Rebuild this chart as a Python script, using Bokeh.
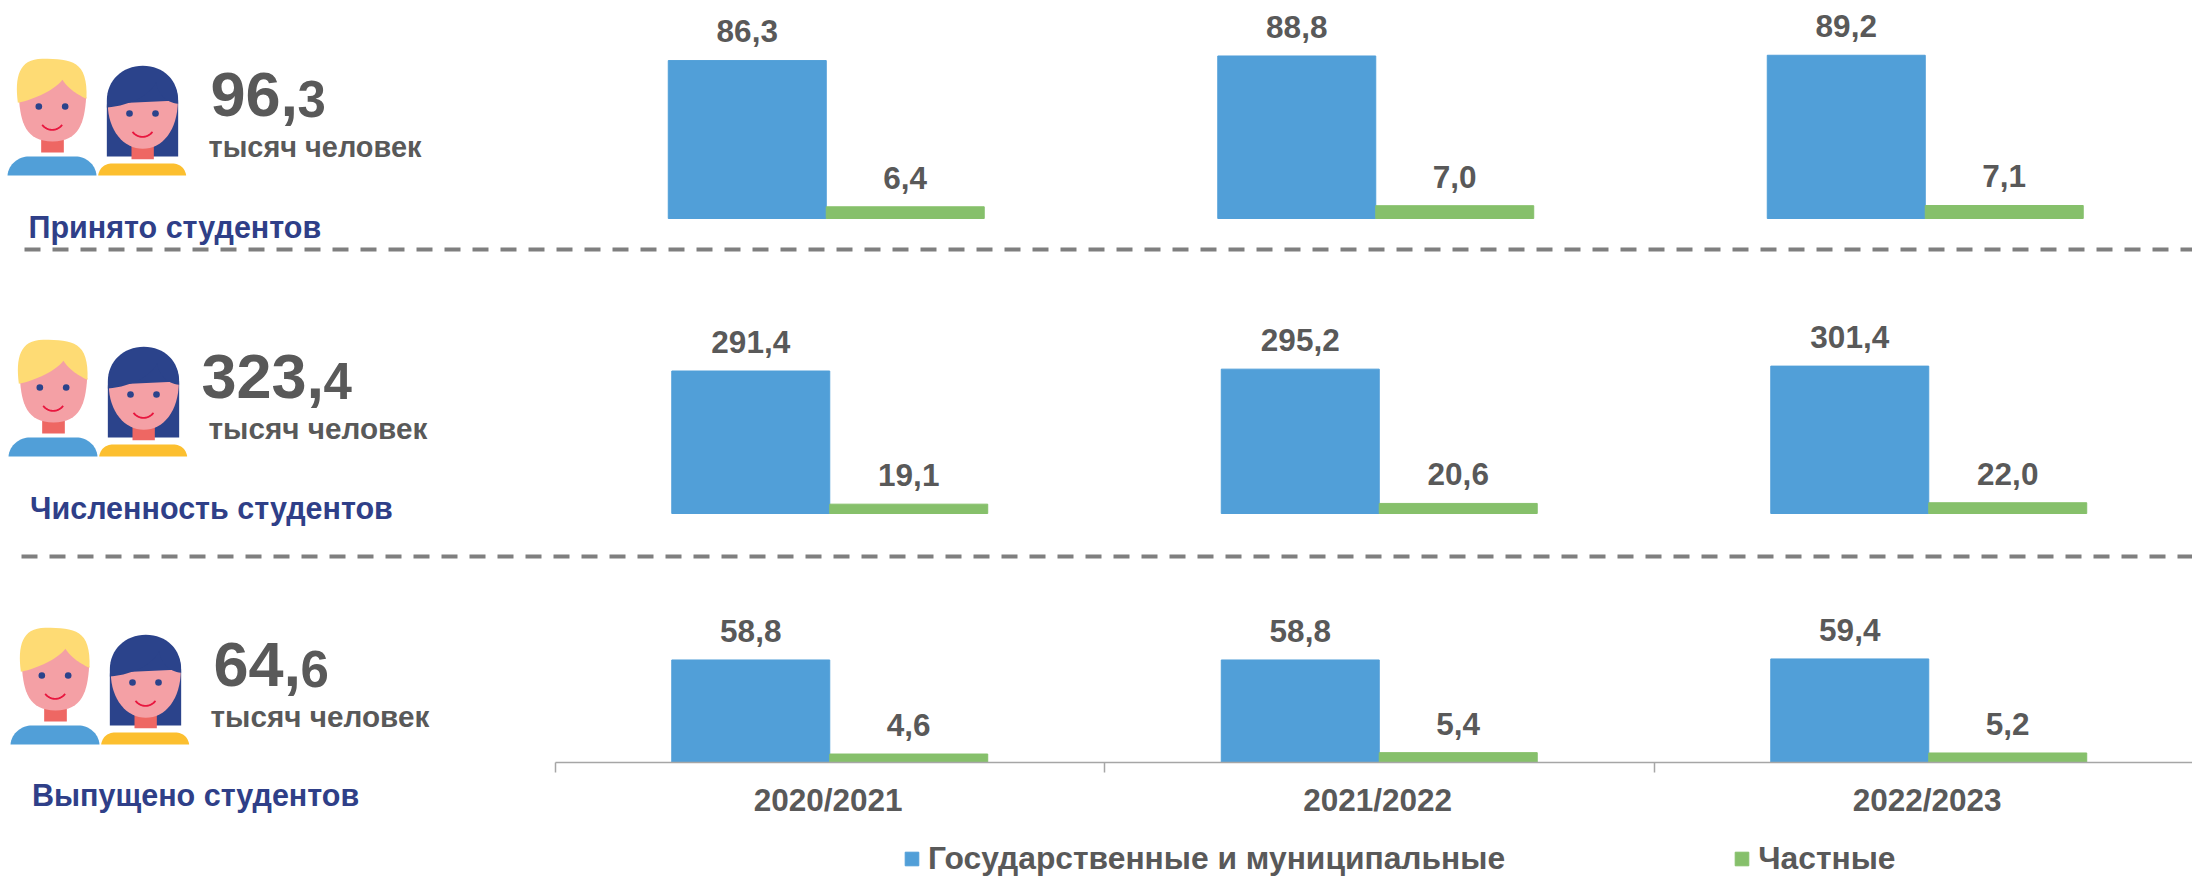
from bokeh.plotting import figure
from bokeh.embed import file_html
from bokeh.resources import INLINE
from bokeh.core.properties import value
from bokeh.models import Range1d, LinearAxis, FixedTicker, Legend, LegendItem

years = ["2020/2021", "2021/2022", "2022/2023"]
state_admitted = [86.3, 88.8, 89.2]
private_admitted = [6.4, 7.0, 7.1]
state_enrolled = [291.4, 295.2, 301.4]
private_enrolled = [19.1, 20.6, 22.0]
state_graduated = [58.8, 58.8, 59.4]
private_graduated = [4.6, 5.4, 5.2]
panel_titles = ["Принято студентов", "Численность студентов", "Выпущено студентов"]
panel_totals = ["96,3", "323,4", "64,6"]
unit = "тысяч человек"
legend_labels = ["Государственные и муниципальные", "Частные"]

W, H = 2192, 877
FONT = value("Liberation Sans")
GREY = "#595959"
NAVY = "#2f3f88"
BLUE = "#519fd8"
GREEN = "#86c06b"
BL = 0.40  # correction of the svg alphabetic baseline, in em

p = figure(width=W, height=H, output_backend="svg", toolbar_location=None,
           x_range=Range1d(0, W), y_range=Range1d(H, 0),
           min_border=0, outline_line_color=None, background_fill_color="white")
p.xaxis.visible = False
p.yaxis.visible = False
p.grid.visible = False

CAT_W = 549.5
def x_cat_range(origin):
    return Range1d((0 - origin) / CAT_W, (W - origin) / CAT_W)
def y_val_range(base, k):
    return Range1d((base - H) / k, (base - 0) / k)

p.extra_x_ranges = {"cat0": x_cat_range(551.0), "cat": x_cat_range(554.5)}
panels = [
    dict(state=state_admitted, private=private_admitted, base=218.0, k=1.83, xr="cat0"),
    dict(state=state_enrolled, private=private_enrolled, base=513.0, k=0.489, xr="cat"),
    dict(state=state_graduated, private=private_graduated, base=761.5, k=1.735, xr="cat"),
]
p.extra_y_ranges = {f"v{i}": y_val_range(d["base"], d["k"]) for i, d in enumerate(panels)}

BAR = 0.2875
fmt = lambda v: f"{v:.1f}".replace(".", ",")
legend_r = []
for i, d in enumerate(panels):
    idx = list(range(len(years)))
    xs = [j + 0.5 - BAR / 2 for j in idx]
    xp = [j + 0.5 + BAR / 2 for j in idx]
    r1 = p.vbar(x=xs, width=BAR, bottom=0, top=d["state"], color=BLUE,
                x_range_name=d["xr"], y_range_name=f"v{i}")
    r2 = p.vbar(x=xp, width=BAR, bottom=0, top=d["private"], color=GREEN,
                x_range_name=d["xr"], y_range_name=f"v{i}")
    if i == 0:
        legend_r = [r1, r2]
    for x_, v_ in ((xs, d["state"]), (xp, d["private"])):
        p.text(x=x_, y=v_, text=[fmt(v) for v in v_], x_range_name=d["xr"], y_range_name=f"v{i}",
               text_font=FONT, text_font_style="bold", text_font_size="31.5px", text_color=GREY,
               text_align="center", text_baseline="alphabetic", y_offset=-16.5 - BL * 31.5)

# axis (real axes pinned at the base of the third panel)
ax = LinearAxis(x_range_name="cat", fixed_location=761.5, ticker=FixedTicker(ticks=[0, 1, 2, 3]),
                bounds=(0, 3), major_tick_in=0, major_tick_out=10, minor_tick_out=0, minor_tick_in=0,
                axis_line_color="#a6a6a6", axis_line_width=1.5,
                major_tick_line_color="#a6a6a6", major_tick_line_width=1.5,
                major_label_text_alpha=0, major_label_text_font_size="1px")
p.add_layout(ax, "below")
ax2 = LinearAxis(x_range_name="cat", fixed_location=761.5,
                 ticker=FixedTicker(ticks=[j + 0.497 for j in range(3)]),
                 major_label_overrides={j + 0.497: y for j, y in enumerate(years)},
                 major_tick_in=0, major_tick_out=0, minor_tick_out=0, minor_tick_in=0,
                 axis_line_color=None, major_label_standoff=20,
                 major_label_text_font="Liberation Sans", major_label_text_font_style="bold",
                 major_label_text_font_size="31.5px", major_label_text_color=GREY)
p.add_layout(ax2, "below")

# dashed separators
p.line([24, W], [249, 249], line_color="#7f7f7f", line_width=4, line_dash="16 12")
p.line([21, W], [556, 556], line_color="#7f7f7f", line_width=4, line_dash="16 12")

# texts of the left column
left = [
    dict(big_x=210, small_x=297, big_y=119, unit_x=208, unit_y=158, unit_size=28.9, title_x=28, title_y=239, ox=0, oy=0),
    dict(big_x=201, small_x=323, big_y=401, unit_x=208, unit_y=440, unit_size=29.7, title_x=29.5, title_y=520, ox=1, oy=281),
    dict(big_x=213, small_x=300, big_y=689, unit_x=210, unit_y=727.5, unit_size=29.7, title_x=31.5, title_y=807, ox=3, oy=569),
]

def bez(p0, p1, p2, p3, n=16):
    out = []
    for t in [i / n for i in range(n + 1)]:
        u = 1 - t
        out.append((u**3 * p0[0] + 3*u*u*t * p1[0] + 3*u*t*t * p2[0] + t**3 * p3[0],
                    u**3 * p0[1] + 3*u*u*t * p1[1] + 3*u*t*t * p2[1] + t**3 * p3[1]))
    return out

def path(*segs):
    pts = []
    for s in segs:
        if isinstance(s[0], tuple):
            pts += bez(*s)
        else:
            pts.append(s)
    return pts

SKIN, RED, NECK = "#f4a0a5", "#e8173f", "#ee6763"
HAIR_Y, HAIR_B = "#fedb74", "#2b438b"
SHIRT_B, SHIRT_Y = "#519fd8", "#fcbf2f"

def people(ox, oy):
    def shape(pts, color):
        p.patch([a / 3 + ox for a, b in pts], [b / 3 + 40 + oy for a, b in pts], color=color, line_width=0)
    def rect(x0, y0, x1, y1, color):
        shape([(x0, y0), (x1, y0), (x1, y1), (x0, y1)], color)
    def dot(x, y, r=10):
        p.circle([x / 3 + ox], [y / 3 + 40 + oy], radius=r / 3, color=HAIR_B, line_width=0)
    def smile(a, b, y, d):
        pts = bez((a, y), (a + 15, y + d), (b - 15, y + d), (b, y))
        p.line([u / 3 + ox for u, v in pts], [v / 3 + 40 + oy for u, v in pts], line_color=RED, line_width=1.8)
    # boy
    shape(path(((21, 405), (24, 370), (55, 348), (85, 348)), ((225, 348), (255, 348), (285, 370), (288, 405))), SHIRT_B)
    rect(122, 290, 190, 336, NECK)
    shape(path((70, 140), (186, 110), (240, 120),
               ((257, 170), (252, 245), (237, 303), (156, 303)), ((156, 303), (75, 303), (60, 245), (55, 170))), SKIN)
    shape(path(((52, 187), (42, 110), (55, 55), (125, 55)), ((125, 55), (215, 55), (262, 60), (258, 175)),
               ((258, 175), (225, 160), (200, 140), (186, 118)), ((186, 118), (160, 150), (105, 175), (52, 187))), HAIR_Y)
    dot(115, 198); dot(194, 198); smile(125, 185, 253, 20)
    # girl
    shape(path(((319, 180), (319, 120), (365, 76), (427, 76)), ((427, 76), (490, 76), (533, 120), (533, 180)),
               (533, 348), (319, 348)), HAIR_B)
    rect(393, 300, 460, 356, NECK)
    shape(path(((322, 190), (322, 270), (370, 325), (427, 325)), ((427, 325), (485, 325), (532, 270), (532, 180))), SKIN)
    shape(path(((319, 201), (395, 195), (450, 160), (467, 125)), ((467, 125), (472, 160), (495, 185), (533, 190)),
               ((533, 190), (533, 120), (490, 80), (427, 80)), ((427, 80), (365, 80), (319, 120), (319, 201))), HAIR_B)
    dot(387, 219); dot(465, 219); smile(396, 456, 274, 20)
    shape(path(((293, 405), (296, 385), (310, 369), (335, 369)), ((515, 369), (540, 369), (554, 385), (557, 405))), SHIRT_Y)

def label(x, y, txt, size, color):
    p.text(x=[x], y=[y], text=[txt], text_font=FONT, text_font_style="bold", text_font_size=f"{size}px",
           text_color=color, text_baseline="alphabetic", y_offset=-BL * size)

for i, l in enumerate(left):
    people(l["ox"], l["oy"])
    big, small = panel_totals[i].split(",")
    label(l["big_x"], l["big_y"], big + ",", 63, GREY)
    label(l["small_x"], l["big_y"], small, 51, GREY)
    label(l["unit_x"], l["unit_y"], unit, l["unit_size"], GREY)
    label(l["title_x"], l["title_y"], panel_titles[i], 30.5, NAVY)

legend = Legend(items=[LegendItem(label=legend_labels[0], renderers=[legend_r[0]]),
                       LegendItem(label=legend_labels[1], renderers=[legend_r[1]])],
                orientation="horizontal", location=(903, 0), border_line_color=None,
                background_fill_alpha=0, margin=0, padding=0, spacing=228,
                glyph_width=17, glyph_height=17, label_standoff=8, label_height=17,
                label_text_font="Liberation Sans", label_text_font_style="bold",
                label_text_font_size="31.8px", label_text_color=GREY)
p.add_layout(legend, "center")

open("out.html", "w").write(file_html(p, INLINE))
